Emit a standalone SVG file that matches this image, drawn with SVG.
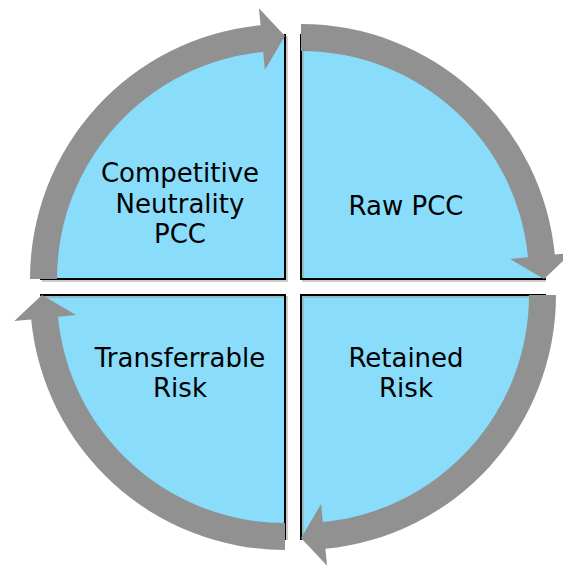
<svg xmlns="http://www.w3.org/2000/svg" xmlns:xlink="http://www.w3.org/1999/xlink" width="563" height="566" viewBox="0 0 563 566">
<style>
.pie{fill:#89DDFA;stroke:none}
.edge{fill:none;stroke:#000;stroke-width:2;stroke-linejoin:miter}
.shadow{fill:none;stroke:#9a9a9a;stroke-width:2;opacity:0.5}
.arrow{fill:#919191;stroke:none}
.lbl{font-family:"DejaVu Sans","Liberation Sans",sans-serif;font-size:26px;fill:#000;text-anchor:middle}
</style>
<defs>
<path id="arc-arrow" class="arrow" d="M -255 0 A 255 255 0 0 1 -24.4 -253.8 L -26.1 -270.7 L 0 -243 L -20.1 -209 L -21.8 -227 A 228 228 0 0 0 -228 0 Z"/>
</defs>
<rect width="563" height="566" fill="#fff"/>
<g id="node-competitive-neutrality">
<path class="pie" d="M285 279 L40 279 A245 245 0 0 1 285 34 Z"/>
<polyline class="shadow" points="42,281 287,281 287,36"/>
<polyline class="edge" points="40,279 285,279 285,34"/>
<text class="lbl" x="180" y="182">Competitive</text>
<text class="lbl" x="180" y="213">Neutrality</text>
<text class="lbl" x="180" y="243">PCC</text>
</g>
<g id="node-raw-pcc">
<path class="pie" d="M301 279 L301 34 A245 245 0 0 1 546 279 Z"/>
<polyline class="shadow" points="303,36 303,281 546,281"/>
<polyline class="edge" points="301,34 301,279 546,279"/>
<text class="lbl" x="406" y="215">Raw PCC</text>
</g>
<g id="node-retained-risk">
<path class="pie" d="M301 295 L546 295 A245 245 0 0 1 301 540 Z"/>
<polyline class="shadow" points="546,297 303,297 303,540"/>
<polyline class="edge" points="546,295 301,295 301,540"/>
<text class="lbl" x="406" y="367">Retained</text>
<text class="lbl" x="406" y="397">Risk</text>
</g>
<g id="node-transferrable-risk">
<path class="pie" d="M285 295 L285 540 A245 245 0 0 1 40 295 Z"/>
<polyline class="shadow" points="287,540 287,297 42,297"/>
<polyline class="edge" points="285,540 285,295 40,295"/>
<text class="lbl" x="180" y="367">Transferrable</text>
<text class="lbl" x="180" y="397">Risk</text>
</g>
<g id="connectors">
<use xlink:href="#arc-arrow" href="#arc-arrow" transform="translate(285 279)"/>
<use xlink:href="#arc-arrow" href="#arc-arrow" transform="translate(301 279) rotate(90)"/>
<use xlink:href="#arc-arrow" href="#arc-arrow" transform="translate(301 295) rotate(180)"/>
<use xlink:href="#arc-arrow" href="#arc-arrow" transform="translate(285 295) rotate(270)"/>
</g>
</svg>
